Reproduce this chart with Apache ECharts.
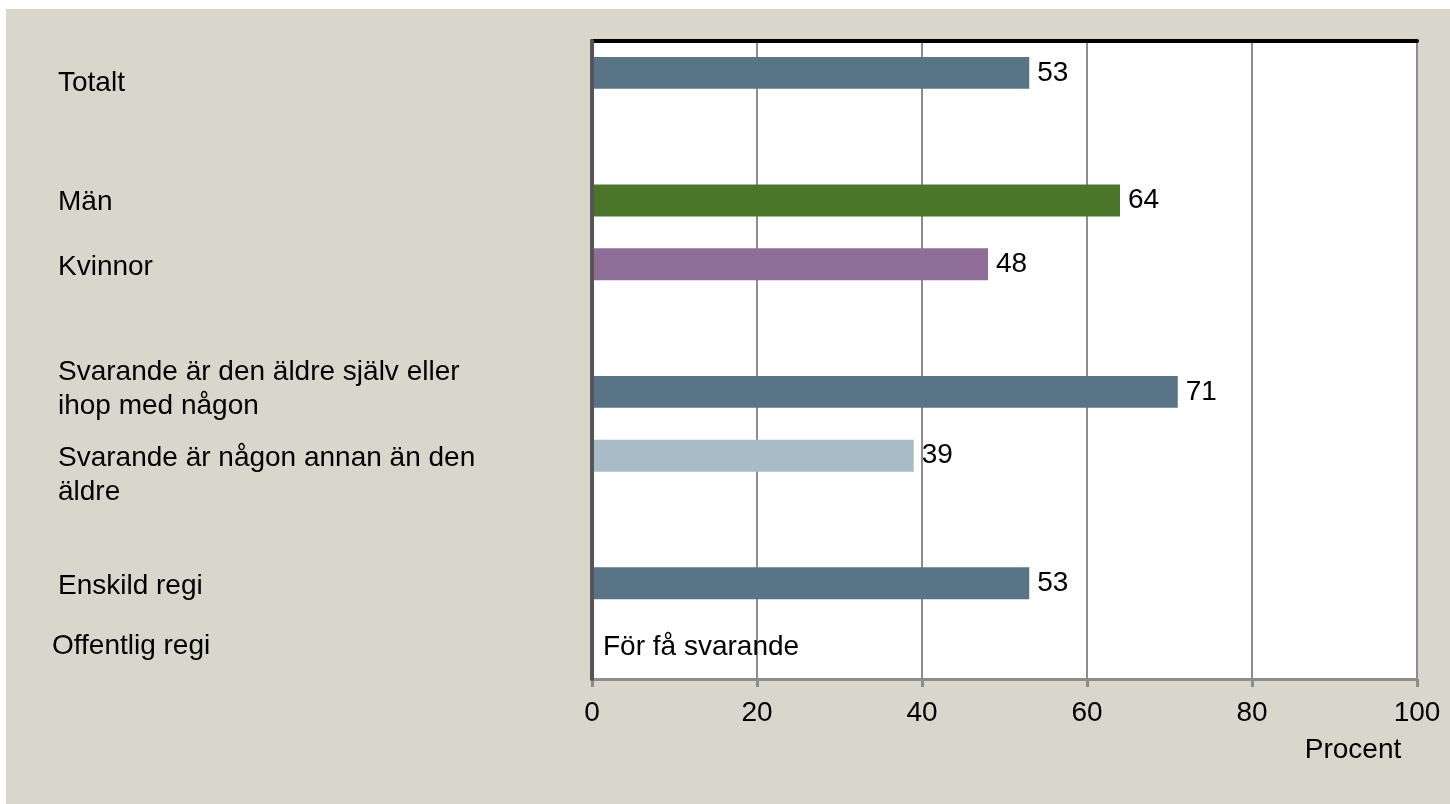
<!DOCTYPE html>
<html>
<head>
<meta charset="utf-8">
<script src="https://cdn.jsdelivr.net/npm/echarts@6/dist/echarts.min.js"></script>
<style>
  html, body { margin: 0; padding: 0; background: #ffffff; }
  #chart { width: 1450px; height: 804px; }
</style>
</head>
<body>
<div id="chart"></div>
<script>
// Andel (procent) per grupp; tomma rader skiljer grupperna åt
const categories = [
  'Totalt',
  ' ',
  'Män',
  'Kvinnor',
  '  ',
  'Svarande är den äldre själv eller\nihop med någon',
  'Svarande är någon annan än den\näldre',
  '   ',
  'Enskild regi',
  'Offentlig regi'
];
const values = [53, null, 64, 48, null, 71, 39, null, 53, 0];
const notes = ['', '', '', '', '', '', '', '', '', 'För få svarande'];
const barColors = ['#587486', null, '#4b7629', '#8e6e97', null, '#587486', '#a8bcc7', null, '#587486', '#587486'];
const xTicks = [0, 20, 40, 60, 80, 100];
const xAxisTitle = 'Procent';

const FONT = '"Liberation Sans", Arial, sans-serif';
const FS = 28;

// row label placement: left edge and a small vertical nudge per row
const labelX = [58, 58, 58, 58, 58, 58, 58, 58, 58, 52];
const labelDy = [10, 0, 2, 3, 0, -3, 20, 0, 3, -1];

const chart = echarts.init(document.getElementById('chart'), null, { renderer: 'canvas' });

const barData = values.map((v, i) => {
  if (v === null) return null;
  const item = { value: v, itemStyle: { color: barColors[i] } };
  if (notes[i]) {
    item.label = { show: true, formatter: notes[i], distance: 11 };
  }
  return item;
});

const baseGraphic = [
  {
    type: 'rect', id: 'bg', z: -10, silent: true,
    shape: { x: 6, y: 9, width: 1444, height: 795 },
    style: { fill: '#d9d7cb' }
  },
  {
    type: 'text', id: 'xtitle', z: 10,
    x: 1353, y: 750,
    style: {
      text: xAxisTitle, fill: '#000', font: FS + 'px ' + FONT,
      align: 'center', verticalAlign: 'middle'
    }
  }
];

chart.setOption({
  backgroundColor: '#ffffff',
  animation: false,
  textStyle: { fontFamily: FONT },
  graphic: baseGraphic,
  grid: {
    left: 592, right: 33, top: 41, bottom: 125,
    containLabel: false, outerBoundsMode: 'none',
    show: true, backgroundColor: '#ffffff', borderColor: '#000', borderWidth: 1
  },
  xAxis: [
    {
      type: 'value', min: xTicks[0], max: xTicks[xTicks.length - 1], interval: 20,
      position: 'bottom',
      axisLine: { show: true, lineStyle: { color: '#8c8c8c', width: 3 } },
      axisTick: { show: true, length: 8, lineStyle: { color: '#8c8c8c', width: 3 } },
      axisLabel: { color: '#000', fontSize: FS, fontFamily: FONT, margin: 20 },
      splitLine: { show: true, lineStyle: { color: '#8c8c8c', width: 2 } }
    },
    {
      type: 'value', min: 0, max: 100, position: 'top',
      axisLine: { show: true, lineStyle: { color: '#000', width: 4 } },
      axisTick: { show: false }, axisLabel: { show: false }, splitLine: { show: false }
    }
  ],
  yAxis: [
    {
      type: 'category', inverse: true, data: categories, position: 'left',
      axisLine: { show: true, lineStyle: { color: '#555555', width: 4 } },
      axisTick: { show: false },
      axisLabel: { show: false },
      z: 5
    },
    {
      type: 'category', inverse: true, data: categories, position: 'right',
      axisLine: { show: true, lineStyle: { color: '#8c8c8c', width: 3 } },
      axisTick: { show: false }, axisLabel: { show: false }
    }
  ],
  series: [
    {
      type: 'bar',
      data: barData,
      barWidth: '50%',
      xAxisIndex: 0, yAxisIndex: 0,
      label: {
        show: true, position: 'right', distance: 8,
        color: '#000', fontSize: FS, fontFamily: FONT
      }
    }
  ]
});

// row labels, placed on the category positions of the y axis
const rowLabels = categories.map((c, i) => {
  const y = chart.convertToPixel({ yAxisIndex: 0 }, i);
  return {
    type: 'text', id: 'row' + i, z: 10, silent: true,
    x: labelX[i], y: y + labelDy[i],
    style: {
      text: c.trim() ? c : '', fill: '#000', font: FS + 'px ' + FONT,
      lineHeight: 34, align: 'left', verticalAlign: 'middle'
    }
  };
});
chart.setOption({ graphic: baseGraphic.concat(rowLabels) });
</script>
</body>
</html>
